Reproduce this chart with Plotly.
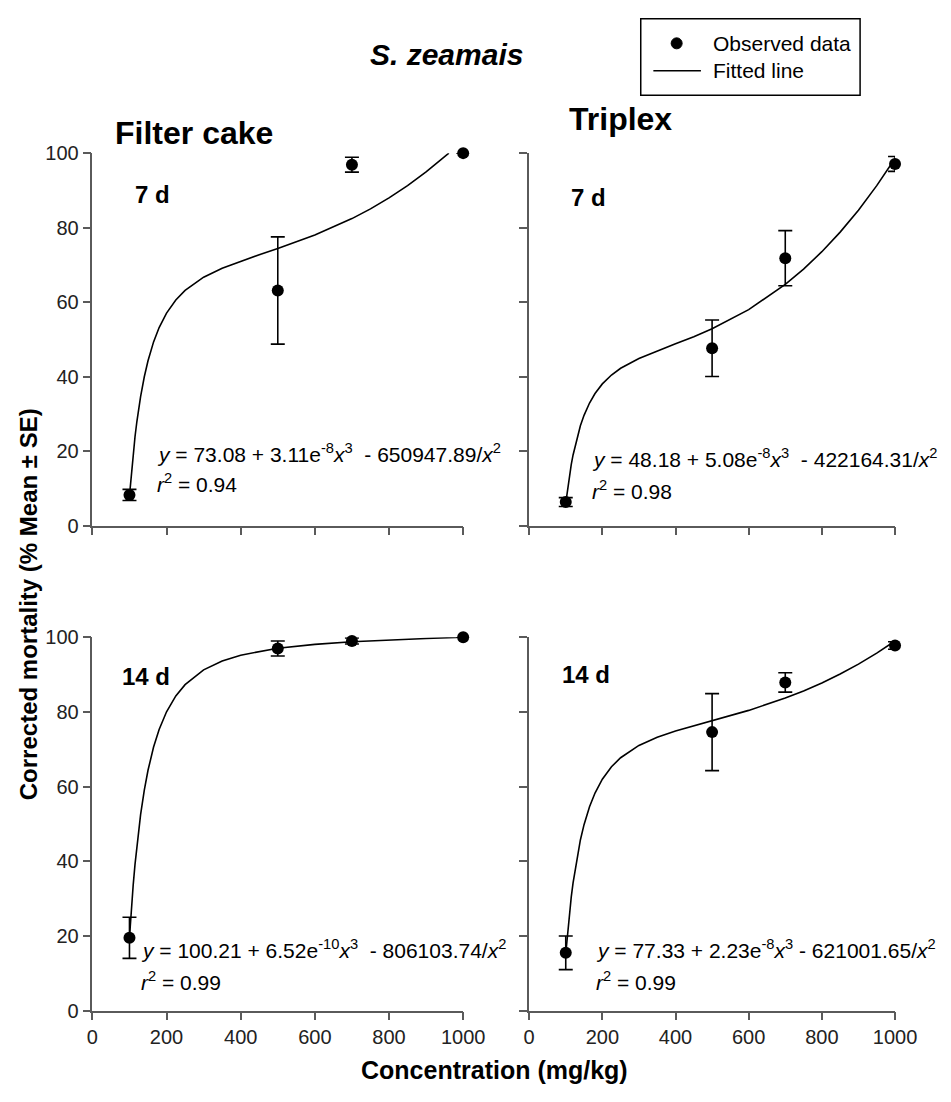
import plotly.graph_objects as go

# ---------------- data ----------------
conc = [100, 500, 700, 1000]

fc7_mean = [8.2, 63.1, 96.9, 100.0]
fc7_se = [1.5, 14.4, 2.0, 0.0]
tr7_mean = [6.3, 47.6, 71.8, 97.1]
tr7_se = [1.2, 7.6, 7.4, 2.0]
fc14_mean = [19.5, 97.0, 99.0, 100.0]
fc14_se = [5.5, 2.0, 0.8, 0.0]
tr14_mean = [15.5, 74.6, 87.9, 97.8]
tr14_se = [4.5, 10.3, 2.6, 1.0]

# fitted lines
fc7_fit_x = [100, 105, 110, 115, 120, 130, 140, 150, 165, 180, 200, 225, 250, 300, 350, 400, 450, 500, 600, 700, 750, 800, 850, 900, 950, 961.5]
fc7_fit_y = [8.02, 14.07, 19.32, 23.91, 27.93, 34.63, 39.95, 44.25, 49.31, 53.17, 57.05, 60.58, 63.15, 66.69, 69.10, 71.00, 72.70, 74.36, 77.99, 82.42, 85.04, 87.99, 91.28, 94.95, 99.02, 100.0]

tr7_fit_x = [100, 105, 110, 115, 120, 130, 140, 150, 165, 180, 200, 225, 250, 300, 350, 400, 450, 500, 600, 700, 750, 800, 850, 900, 950, 1000]
tr7_fit_y = [6.01, 9.95, 13.36, 16.34, 18.95, 23.31, 26.78, 29.59, 32.90, 35.45, 38.03, 40.42, 42.22, 44.86, 46.91, 48.79, 50.72, 52.84, 57.98, 64.74, 68.86, 73.53, 78.79, 84.69, 91.27, 98.56]

fc14_fit_x = [100, 102, 105, 110, 115, 120, 130, 140, 150, 165, 180, 200, 225, 250, 300, 350, 400, 500, 600, 700, 800, 900, 1000]
fc14_fit_y = [19.60, 22.73, 27.09, 33.59, 39.26, 44.23, 52.51, 59.08, 64.38, 70.60, 75.33, 80.06, 84.29, 87.32, 91.27, 93.66, 95.21, 97.07, 98.11, 98.79, 99.29, 99.69, 100.0]

tr14_fit_x = [100, 105, 110, 115, 120, 130, 140, 150, 165, 180, 200, 225, 250, 300, 350, 400, 450, 500, 600, 700, 750, 800, 850, 900, 950, 1000]
tr14_fit_y = [15.25, 21.03, 26.04, 30.41, 34.24, 40.63, 45.71, 49.81, 54.62, 58.29, 61.98, 65.32, 67.74, 71.03, 73.22, 74.88, 76.30, 77.63, 80.42, 83.71, 85.63, 87.78, 90.17, 92.82, 95.76, 99.01]

panel_titles = ["Filter cake", "Triplex"]
day_labels = ["7 d", "7 d", "14 d", "14 d"]
equations = [
    "<i>y</i> = 73.08 + 3.11e<sup>-8</sup><i>x</i><sup>3</sup>  - 650947.89/<i>x</i><sup>2</sup>",
    "<i>y</i> = 48.18 + 5.08e<sup>-8</sup><i>x</i><sup>3</sup>  - 422164.31/<i>x</i><sup>2</sup>",
    "<i>y</i> = 100.21 + 6.52e<sup>-10</sup><i>x</i><sup>3</sup>  - 806103.74/<i>x</i><sup>2</sup>",
    "<i>y</i> = 77.33 + 2.23e<sup>-8</sup><i>x</i><sup>3</sup> - 621001.65/<i>x</i><sup>2</sup>",
]
r2_text = ["0.94", "0.98", "0.99", "0.99"]
legend_items = ["Observed data", "Fitted line"]

FONT = "Liberation Sans, Arial, sans-serif"
AXCOL = "#5a5a5a"

fig = go.Figure()

panels = [
    ("x", "y", fc7_mean, fc7_se, fc7_fit_x, fc7_fit_y),
    ("x2", "y2", tr7_mean, tr7_se, tr7_fit_x, tr7_fit_y),
    ("x3", "y3", fc14_mean, fc14_se, fc14_fit_x, fc14_fit_y),
    ("x4", "y4", tr14_mean, tr14_se, tr14_fit_x, tr14_fit_y),
]

for xa, ya, m, se, fx, fy in panels:
    fig.add_trace(go.Scatter(
        x=fx, y=fy, xaxis=xa, yaxis=ya, mode="lines",
        line=dict(color="black", width=1.6), showlegend=False,
        hoverinfo="skip", cliponaxis=False))
    fig.add_trace(go.Scatter(
        x=conc, y=m, xaxis=xa, yaxis=ya, mode="markers",
        marker=dict(color="black", size=12),
        error_y=dict(type="data", array=se, visible=True, color="black",
                     thickness=1.6, width=7),
        showlegend=False, cliponaxis=False))

xdom = [[0.0936, 0.4953], [0.5668, 0.9632]]
ydom = [[0.5236, 0.8684], [0.0744, 0.4201]]

axis_common = dict(showline=True, linecolor=AXCOL, linewidth=1.5, ticks="outside",
                   ticklen=8, tickwidth=1.5, tickcolor=AXCOL, showgrid=False,
                   zeroline=False, tickfont=dict(family=FONT, size=20, color="#222"))

layout_axes = {}
for i in range(4):
    row, col = divmod(i, 2)
    sfx = "" if i == 0 else str(i + 1)
    layout_axes["xaxis" + sfx] = dict(
        axis_common, domain=xdom[col], range=[0, 1000], tick0=0, dtick=200,
        anchor="y" + sfx, showticklabels=(row == 1))
    layout_axes["yaxis" + sfx] = dict(
        axis_common, domain=ydom[row], range=[0, 100], tick0=0, dtick=20,
        anchor="x" + sfx, showticklabels=(col == 0))

fig.update_layout(**layout_axes)

ann = []
# panel titles
ann.append(dict(text="<b>%s</b>" % panel_titles[0], x=194 / 951, y=1 - 124 / 1102, xref="paper", yref="paper",
                showarrow=False, font=dict(family=FONT, size=32, color="black"), xanchor="center", yanchor="middle"))
ann.append(dict(text="<b>%s</b>" % panel_titles[1], x=633 / 951, y=1 - 110 / 1102, xref="paper", yref="paper",
                showarrow=False, font=dict(family=FONT, size=32, color="black"), xanchor="center", yanchor="middle"))
# species
ann.append(dict(text="<b><i>S. zeamais</i></b>", x=454 / 951, y=1 - 44 / 1102, xref="paper", yref="paper",
                showarrow=False, font=dict(family=FONT, size=30, color="black"), xanchor="center", yanchor="middle"))
# axis titles
ann.append(dict(text="<b>Corrected mortality (% Mean ± SE)</b>", x=24 / 951, y=1 - 605 / 1102, xref="paper",
                yref="paper", showarrow=False, textangle=-90,
                font=dict(family=FONT, size=24, color="black"), xanchor="center", yanchor="middle"))
ann.append(dict(text="<b>Concentration (mg/kg)</b>", x=503 / 951, y=1 - 1081 / 1102, xref="paper",
                yref="paper", showarrow=False,
                font=dict(family=FONT, size=25, color="black"), xanchor="center", yanchor="middle"))

day_pos = [(162, 89), (162, 88), (145, 89.5), (155, 90)]
eq_pos = [(168, 19.5, 11.5), (167, 18, 9.5), (126, 16.5, 8), (178, 16.5, 8)]
for i in range(4):
    sfx = "" if i == 0 else str(i + 1)
    ann.append(dict(text="<b>%s</b>" % day_labels[i], x=day_pos[i][0], y=day_pos[i][1],
                    xref="x" + sfx, yref="y" + sfx, showarrow=False, xanchor="center", yanchor="middle",
                    font=dict(family=FONT, size=24, color="black")))
    ann.append(dict(text=equations[i], x=eq_pos[i][0], y=eq_pos[i][1],
                    xref="x" + sfx, yref="y" + sfx, showarrow=False, xanchor="left", yanchor="middle",
                    font=dict(family=FONT, size=21, color="black")))
    ann.append(dict(text="<i>r</i><sup>2</sup> = " + r2_text[i], x=eq_pos[i][0], y=eq_pos[i][2],
                    xref="x" + sfx, yref="y" + sfx, showarrow=False, xanchor="left", yanchor="middle",
                    font=dict(family=FONT, size=21, color="black")))

# legend box
ann.append(dict(text=legend_items[0], x=726 / 951, y=1 - 33 / 1102, xref="paper", yref="paper",
                showarrow=False, xanchor="left", yanchor="middle", font=dict(family=FONT, size=21, color="black")))
ann.append(dict(text=legend_items[1], x=726 / 951, y=1 - 61 / 1102, xref="paper", yref="paper",
                showarrow=False, xanchor="left", yanchor="middle", font=dict(family=FONT, size=21, color="black")))

shapes = [
    dict(type="rect", xref="paper", yref="paper", x0=654 / 951, x1=880 / 951, y0=1 - 86 / 1102, y1=1 - 8 / 1102,
         line=dict(color="black", width=1.5)),
    dict(type="line", xref="paper", yref="paper", x0=667 / 951, x1=716 / 951, y0=1 - 61 / 1102, y1=1 - 61 / 1102,
         line=dict(color="black", width=1.6)),
    dict(type="circle", xref="paper", yref="paper", xsizemode="pixel", ysizemode="pixel",
         xanchor=691 / 951, yanchor=1 - 33 / 1102, x0=-5.5, x1=5.5, y0=-5.5, y1=5.5,
         fillcolor="black", line=dict(color="black", width=1)),
]

fig.update_layout(
    width=951, height=1102, autosize=False,
    margin=dict(l=0, r=0, t=0, b=0),
    paper_bgcolor="white", plot_bgcolor="white",
    annotations=ann, shapes=shapes, showlegend=False,
    font=dict(family=FONT, color="black"),
)

fig.write_html("out.html", config={"displayModeBar": False},
               post_script="document.body.style.margin='0px';")
